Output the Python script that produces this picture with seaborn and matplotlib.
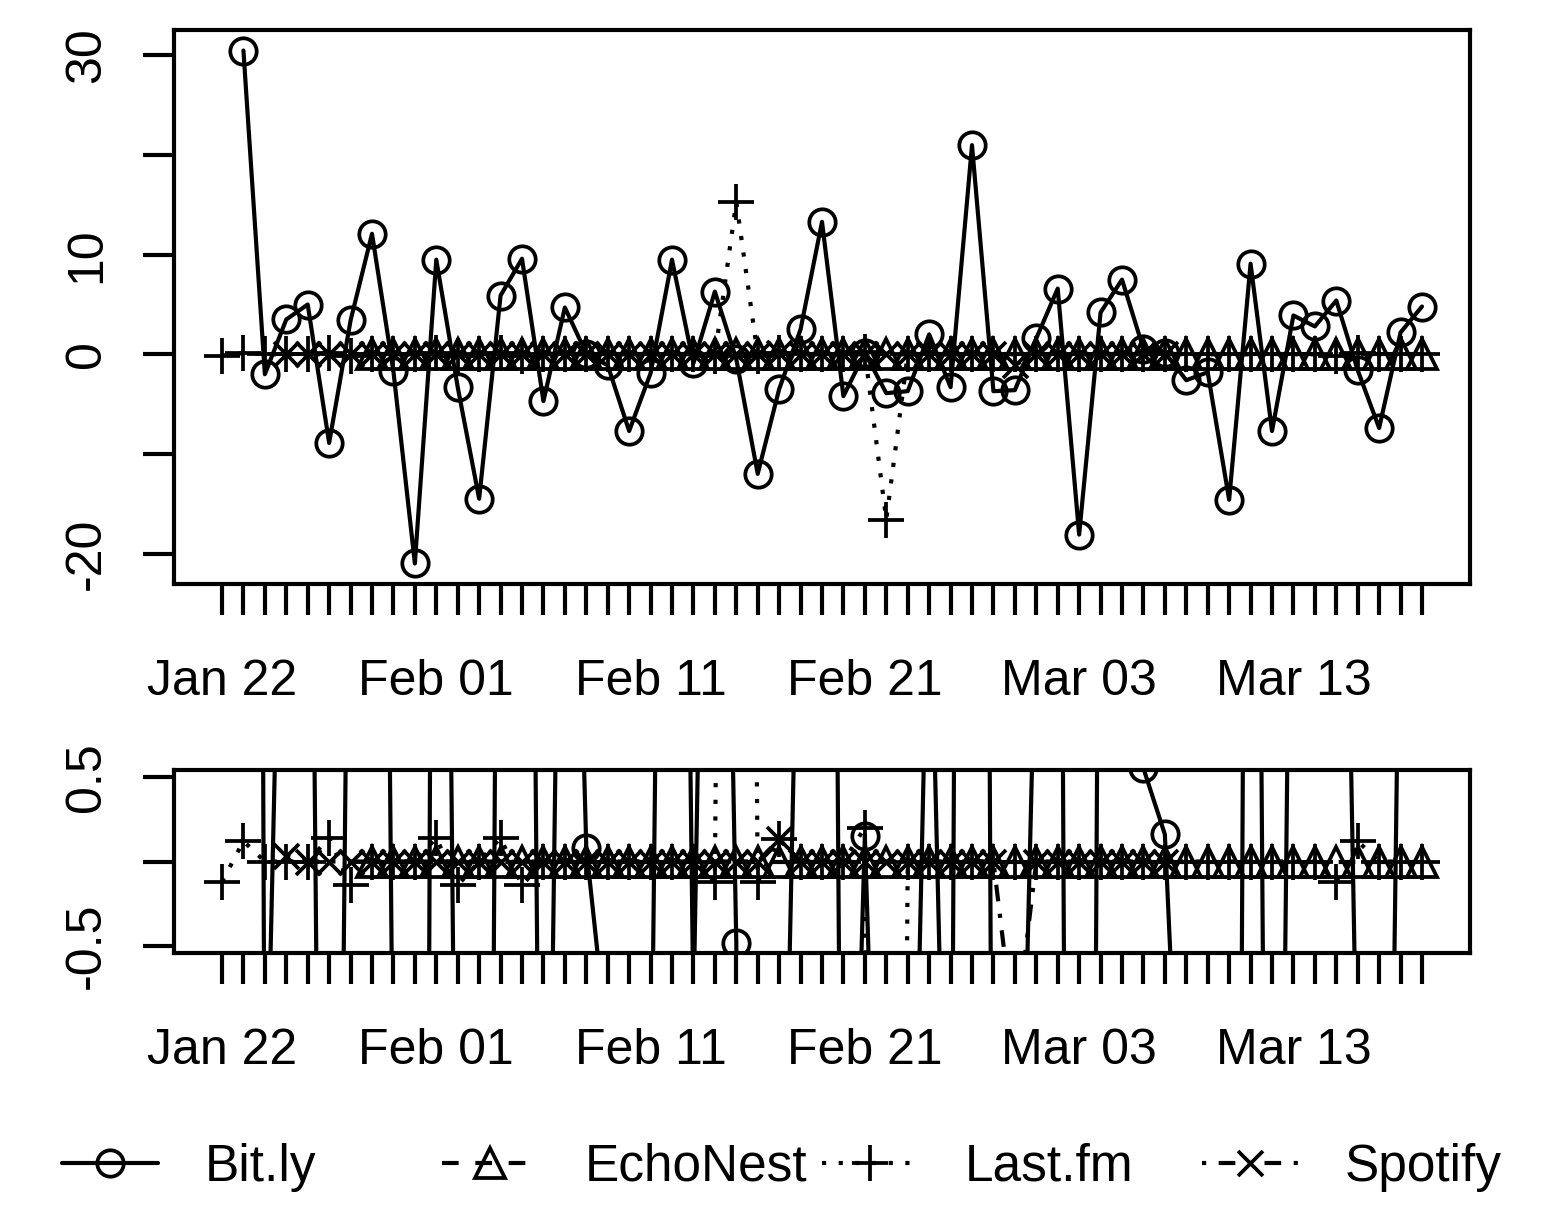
import numpy as np
import pandas as pd
import matplotlib
matplotlib.use("Agg")
import matplotlib.pyplot as plt
import seaborn as sns

nan = np.nan

# daily differences, Jan 22 .. Mar 19
dates = pd.date_range("2015-01-22", "2015-03-19", freq="D")

bitly = [nan, 30.5, -2.0, 3.5, 5.0, -8.9, 3.4, 12.1, -1.7, -21.0,
         9.5, -3.3, -14.5, 5.9, 9.6, -4.7, 4.7, 0.08, -1.1, -7.7,
         -1.9, 9.5, -0.9, 6.3, -0.48, -12.0, -3.5, 2.5, 13.3, -4.2,
         0.15, -3.9, -3.7, 2.0, -3.3, 21.0, -3.7, -3.6, 1.6, 6.6,
         -18.1, 4.2, 7.5, 0.55, 0.16, -2.6, -1.8, -14.6, 9.1, -7.7,
         3.9, 2.8, 5.4, -1.6, -7.4, 2.2, 4.8]

echonest = [nan, nan, nan, nan, nan, nan, nan, 0, 0, 0,
            0, 0, 0, 0, 0, 0, 0, 0, 0, 0,
            0, 0, 0, 0, 0, 0, 0, 0, 0, 0,
            0, 0, 0, 0, 0, 0, 0, 0, 0, 0,
            0, 0, 0, 0, 0, 0, 0, 0, 0, 0,
            0, 0, 0, 0, 0, 0, 0]

lastfm = [-0.12, 0.12, 0, 0, 0, 0.14, -0.14, 0, 0, 0,
          0.14, -0.14, 0, 0.14, -0.14, 0, 0, 0, 0, 0,
          0, 0, 0, -0.12, 15.3, -0.12, 0.13, 0, 0, 0,
          0.2, -16.6, 0, 0, 0, 0, 0, 0, 0, 0,
          0, 0, 0, 0, 0, 0, 0, 0, 0, 0,
          0, 0, -0.12, 0.12, 0, 0, 0]

spotify = [nan, nan, nan, 0.035, 0, 0, 0, 0, 0, 0,
           0, 0, 0, 0, 0, 0, 0, 0, 0, 0,
           0, 0, 0, 0, 0, 0, 0.13, 0, 0, 0,
           0, 0, 0, 0, 0, 0, 0, -1.05, 0, 0,
           0, 0, 0, 0, 0, nan, nan, nan, nan, nan,
           nan, nan, nan, nan, nan, nan, nan]

names = ["Bit.ly", "EchoNest", "Last.fm", "Spotify"]
values = [bitly, echonest, lastfm, spotify]
date_labels = ["Jan 22", "Feb 01", "Feb 11", "Feb 21", "Mar 03", "Mar 13"]

LW = 3.0
styles = [
    dict(marker="o", markersize=19, linestyle="-"),
    dict(marker="^", markersize=21, linestyle=(0, (4, 4))),
    dict(marker="+", markersize=26, linestyle=(0, (1, 3))),
    dict(marker="x", markersize=18, linestyle=(0, (1, 3, 4, 3))),
]

sns.set_theme(style="ticks")
plt.rcParams["font.family"] = ["Liberation Sans", "DejaVu Sans"]

W, H = 1563, 1206
fig = plt.figure(figsize=(W / 100, H / 100), dpi=100)
ax_top = fig.add_axes([174 / W, 1 - 584 / H, 1296 / W, 554 / H])
ax_low = fig.add_axes([174 / W, 1 - 953 / H, 1296 / W, 183 / H])


def draw(ax):
    for vals, st in zip(values, styles):
        s = pd.Series(vals, index=dates).dropna()
        sns.lineplot(x=s.index, y=s.values, ax=ax, color="black",
                     linewidth=LW, markerfacecolor="none",
                     markeredgecolor="black", markeredgewidth=LW * 0.9,
                     errorbar=None, **st)
    pad = 0.04 * (len(dates) - 1)
    ax.set_xlim(dates[0] - pd.Timedelta(days=pad), dates[-1] + pd.Timedelta(days=pad))
    ax.set_xticks(dates)
    labs = [""] * len(dates)
    for k, lab in enumerate(date_labels):
        labs[10 * k] = lab
    ax.set_xticklabels(labs)
    ax.tick_params(direction="out", length=22, width=LW, labelsize=36,
                   color="black", labelcolor="black")
    ax.tick_params(axis="x", pad=32)
    ax.tick_params(axis="y", pad=24)
    for sp in ax.spines.values():
        sp.set_visible(True)
        sp.set_linewidth(LW)
        sp.set_color("black")
    ax.set_xlabel("")
    ax.set_ylabel("")
    ax.grid(False)


draw(ax_top)
allv = np.array(bitly + lastfm, dtype=float)
lo, hi = np.nanmin(allv), np.nanmax(allv)
ax_top.set_ylim(lo - 0.04 * (hi - lo), hi + 0.04 * (hi - lo))
ax_top.set_yticks([-20, -10, 0, 10, 20, 30])
ax_top.set_yticklabels(["-20", "", "0", "10", "", "30"], rotation=90, va="center")

draw(ax_low)
ax_low.set_ylim(-0.54, 0.54)
ax_low.set_yticks([-0.5, 0, 0.5])
ax_low.set_yticklabels(["-0.5", "", "0.5"], rotation=90, va="center")

handles = ax_top.get_lines()[:4]
legend_x = [62, 442, 822, 1202]
for h, lab, x0 in zip(handles, names, legend_x):
    fig.legend([h], [lab], loc="center left", bbox_to_anchor=(x0 / W, 1 - 1167 / H),
               frameon=False, fontsize=37, handlelength=1.87, handletextpad=0.91,
               borderpad=0, borderaxespad=0, labelcolor="black")

fig.savefig("out.png", dpi=100, facecolor="white")
